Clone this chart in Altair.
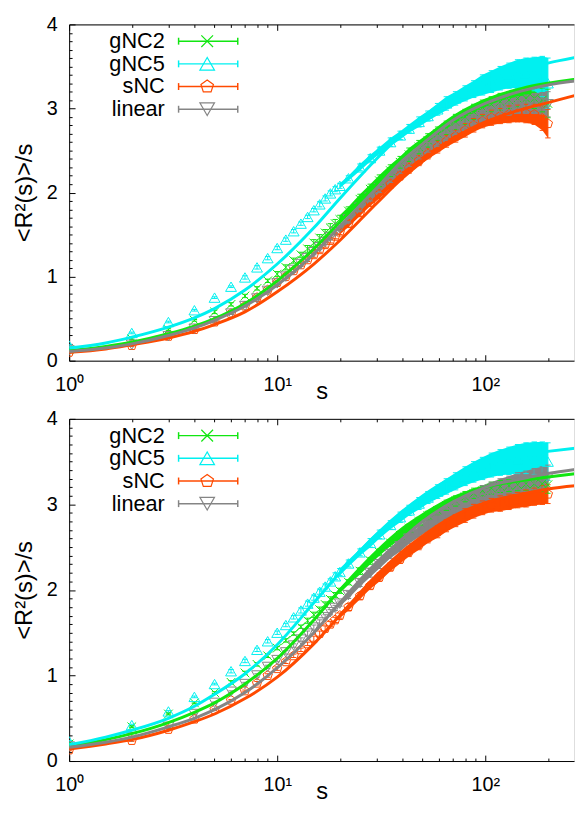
import altair as alt
import pandas as pd

SERIES = ["gNC2", "gNC5", "sNC", "linear"]
COLORS = ["#11e611", "#00f0f0", "#ff4a00", "#858585"]
SHAPES = ["M-0.8,-0.8L0.8,0.8M-0.8,0.8L0.8,-0.8", "triangle-up",
          "M0,-0.9L0.856,-0.278L0.529,0.728L-0.529,0.728L-0.856,-0.278Z", "triangle-down"]

X_LABEL_VALS = [1, 10, 100]
X_LABEL_TEXT = ["10\u2070", "10\u00b9", "10\u00b2"]
Y_LABEL_VALS = [0, 1, 2, 3, 4]

S_PTS = [1, 2, 3, 4, 5, 6, 7, 8, 9, 10, 11, 12, 13, 14, 15, 16, 17, 18, 19, 20,
         22, 25, 28, 31, 35, 39, 43, 48, 53, 59, 65, 72, 80, 88, 97, 107, 118, 130, 143, 157, 172, 188, 200]

# ---- top panel: measured points
TOP_GNC2 = [0.13, 0.26, 0.37, 0.48, 0.58, 0.67, 0.77, 0.86, 0.95, 1.03, 1.11, 1.19, 1.26, 1.33, 1.40, 1.46, 1.52, 1.58, 1.63, 1.68,
            1.78, 1.92, 2.04, 2.14, 2.26, 2.36, 2.45, 2.54, 2.62, 2.70, 2.77, 2.84, 2.90, 2.96, 3.01, 3.05, 3.08, 3.10, 3.12, 3.12, 3.12, 3.10, 3.06]
TOP_GNC2_ERR = [0.01, 0.01, 0.01, 0.01, 0.02, 0.02, 0.02, 0.02, 0.02, 0.03, 0.03, 0.03, 0.03, 0.04, 0.04, 0.04, 0.04, 0.05, 0.05, 0.05,
                0.05, 0.06, 0.06, 0.07, 0.07, 0.07, 0.08, 0.08, 0.08, 0.08, 0.08, 0.09, 0.09, 0.09, 0.09, 0.09, 0.10, 0.10, 0.10, 0.11, 0.12, 0.14, 0.17]
TOP_GNC5 = [0.18, 0.33, 0.46, 0.60, 0.75, 0.88, 0.99, 1.11, 1.22, 1.34, 1.44, 1.54, 1.63, 1.71, 1.79, 1.86, 1.93, 1.99, 2.04, 2.08,
            2.17, 2.30, 2.41, 2.50, 2.60, 2.68, 2.76, 2.84, 2.91, 2.99, 3.06, 3.12, 3.18, 3.23, 3.28, 3.32, 3.36, 3.39, 3.41, 3.42, 3.41, 3.38, 3.30]
TOP_GNC5_ERR = [0.01, 0.01, 0.01, 0.01, 0.01, 0.01, 0.02, 0.02, 0.02, 0.02, 0.02, 0.02, 0.02, 0.02, 0.02, 0.03, 0.03, 0.03, 0.03, 0.03,
                0.03, 0.04, 0.04, 0.04, 0.05, 0.05, 0.05, 0.06, 0.06, 0.07, 0.08, 0.08, 0.09, 0.10, 0.12, 0.13, 0.14, 0.15, 0.17, 0.18, 0.20, 0.24, 0.30]
TOP_SNC = [0.10, 0.18, 0.29, 0.37, 0.46, 0.56, 0.65, 0.75, 0.84, 0.93, 1.00, 1.07, 1.14, 1.20, 1.26, 1.32, 1.38, 1.43, 1.48, 1.53,
           1.63, 1.76, 1.88, 1.98, 2.10, 2.20, 2.29, 2.38, 2.46, 2.54, 2.61, 2.67, 2.74, 2.80, 2.85, 2.89, 2.91, 2.93, 2.94, 2.94, 2.93, 2.88, 2.82]
TOP_SNC_ERR = [0.01, 0.01, 0.01, 0.01, 0.01, 0.01, 0.01, 0.02, 0.02, 0.02, 0.02, 0.02, 0.02, 0.02, 0.03, 0.03, 0.03, 0.03, 0.03, 0.03,
               0.04, 0.04, 0.04, 0.05, 0.05, 0.05, 0.06, 0.06, 0.06, 0.07, 0.07, 0.07, 0.08, 0.08, 0.08, 0.09, 0.09, 0.10, 0.10, 0.11, 0.12, 0.14, 0.17]
TOP_LIN = [0.12, 0.19, 0.29, 0.38, 0.47, 0.56, 0.65, 0.74, 0.83, 0.92, 1.00, 1.08, 1.15, 1.22, 1.29, 1.35, 1.41, 1.47, 1.53, 1.58,
           1.68, 1.82, 1.94, 2.05, 2.17, 2.28, 2.37, 2.46, 2.54, 2.62, 2.69, 2.76, 2.82, 2.87, 2.92, 2.96, 3.00, 3.02, 3.04, 3.05, 3.06, 3.06, 3.05]
TOP_LIN_ERR = [0.01, 0.01, 0.01, 0.01, 0.01, 0.01, 0.01, 0.02, 0.02, 0.02, 0.02, 0.02, 0.02, 0.02, 0.03, 0.03, 0.03, 0.03, 0.03, 0.03,
               0.04, 0.04, 0.04, 0.05, 0.05, 0.05, 0.06, 0.06, 0.06, 0.07, 0.07, 0.07, 0.08, 0.08, 0.08, 0.09, 0.09, 0.10, 0.10, 0.11, 0.12, 0.13, 0.15]

# ---- bottom panel: measured points
BOT_GNC2 = [0.20, 0.40, 0.55, 0.68, 0.80, 0.92, 1.03, 1.13, 1.23, 1.32, 1.41, 1.49, 1.57, 1.64, 1.71, 1.77, 1.83, 1.89, 1.94, 1.99,
            2.09, 2.22, 2.34, 2.44, 2.55, 2.64, 2.72, 2.80, 2.87, 2.93, 2.99, 3.04, 3.09, 3.13, 3.16, 3.19, 3.21, 3.22, 3.23, 3.24, 3.24, 3.24, 3.23]
BOT_GNC2_ERR = [0.01, 0.01, 0.01, 0.01, 0.01, 0.02, 0.02, 0.02, 0.02, 0.02, 0.02, 0.02, 0.02, 0.03, 0.03, 0.03, 0.03, 0.03, 0.03, 0.03,
                0.03, 0.04, 0.04, 0.04, 0.04, 0.05, 0.05, 0.05, 0.05, 0.05, 0.06, 0.06, 0.06, 0.06, 0.06, 0.07, 0.07, 0.07, 0.07, 0.08, 0.08, 0.09, 0.10]
BOT_GNC5 = [0.23, 0.42, 0.58, 0.75, 0.90, 1.05, 1.17, 1.30, 1.40, 1.50, 1.59, 1.68, 1.76, 1.84, 1.91, 1.98, 2.04, 2.10, 2.16, 2.21,
            2.31, 2.44, 2.55, 2.65, 2.76, 2.85, 2.93, 3.01, 3.08, 3.15, 3.21, 3.27, 3.33, 3.38, 3.42, 3.46, 3.49, 3.51, 3.53, 3.54, 3.54, 3.53, 3.50]
BOT_GNC5_ERR = [0.01, 0.01, 0.01, 0.01, 0.01, 0.02, 0.02, 0.02, 0.02, 0.02, 0.02, 0.02, 0.03, 0.03, 0.03, 0.03, 0.03, 0.03, 0.04, 0.04,
                0.04, 0.04, 0.05, 0.05, 0.05, 0.06, 0.06, 0.07, 0.07, 0.08, 0.09, 0.10, 0.11, 0.12, 0.13, 0.14, 0.15, 0.16, 0.17, 0.18, 0.19, 0.20, 0.22]
BOT_SNC = [0.13, 0.24, 0.37, 0.49, 0.60, 0.71, 0.82, 0.91, 1.00, 1.08, 1.16, 1.23, 1.30, 1.37, 1.43, 1.49, 1.55, 1.60, 1.65, 1.70,
           1.80, 1.93, 2.05, 2.15, 2.27, 2.36, 2.45, 2.53, 2.61, 2.68, 2.75, 2.81, 2.87, 2.92, 2.96, 2.99, 3.01, 3.03, 3.05, 3.07, 3.09, 3.11, 3.12]
BOT_SNC_ERR = [0.01, 0.01, 0.01, 0.01, 0.01, 0.01, 0.01, 0.02, 0.02, 0.02, 0.02, 0.02, 0.02, 0.02, 0.03, 0.03, 0.03, 0.03, 0.03, 0.03,
               0.04, 0.04, 0.04, 0.05, 0.05, 0.05, 0.06, 0.06, 0.06, 0.07, 0.07, 0.07, 0.08, 0.08, 0.08, 0.08, 0.09, 0.09, 0.09, 0.10, 0.10, 0.11, 0.11]
BOT_LIN = [0.17, 0.28, 0.40, 0.55, 0.68, 0.81, 0.90, 1.00, 1.10, 1.18, 1.27, 1.35, 1.42, 1.49, 1.56, 1.62, 1.68, 1.74, 1.79, 1.84,
           1.94, 2.08, 2.20, 2.30, 2.42, 2.51, 2.60, 2.68, 2.76, 2.83, 2.90, 2.96, 3.02, 3.07, 3.12, 3.16, 3.19, 3.22, 3.25, 3.27, 3.29, 3.31, 3.32]
BOT_LIN_ERR = [0.01, 0.01, 0.01, 0.01, 0.01, 0.01, 0.02, 0.02, 0.02, 0.02, 0.02, 0.02, 0.02, 0.03, 0.03, 0.03, 0.03, 0.03, 0.03, 0.03,
               0.04, 0.04, 0.05, 0.05, 0.05, 0.06, 0.06, 0.06, 0.07, 0.07, 0.08, 0.08, 0.09, 0.09, 0.10, 0.10, 0.11, 0.11, 0.12, 0.12, 0.13, 0.13, 0.14]

# ---- fitted curves
S_FIT = [1, 1.5, 2, 3, 4, 5, 7, 10, 15, 20, 30, 40, 50, 70, 100, 150, 200, 276]
TOP_FIT_GNC2 = [0.12, 0.17, 0.22, 0.32, 0.41, 0.50, 0.68, 0.95, 1.33, 1.65, 2.10, 2.42, 2.62, 2.90, 3.10, 3.24, 3.30, 3.35]
TOP_FIT_GNC5 = [0.15, 0.21, 0.28, 0.40, 0.51, 0.62, 0.84, 1.15, 1.58, 1.93, 2.40, 2.70, 2.90, 3.14, 3.32, 3.47, 3.54, 3.61]
TOP_FIT_SNC = [0.10, 0.14, 0.19, 0.27, 0.35, 0.43, 0.58, 0.82, 1.15, 1.43, 1.87, 2.17, 2.37, 2.64, 2.84, 2.99, 3.07, 3.16]
TOP_FIT_LIN = [0.11, 0.15, 0.20, 0.30, 0.39, 0.48, 0.65, 0.90, 1.27, 1.60, 2.05, 2.38, 2.58, 2.86, 3.06, 3.21, 3.28, 3.33]
BOT_FIT_GNC2 = [0.17, 0.25, 0.32, 0.45, 0.57, 0.68, 0.90, 1.20, 1.65, 2.00, 2.45, 2.72, 2.88, 3.08, 3.20, 3.28, 3.32, 3.36]
BOT_FIT_GNC5 = [0.19, 0.28, 0.36, 0.50, 0.64, 0.78, 1.02, 1.36, 1.85, 2.20, 2.65, 2.92, 3.10, 3.32, 3.48, 3.58, 3.62, 3.66]
BOT_FIT_SNC = [0.14, 0.20, 0.25, 0.36, 0.46, 0.55, 0.73, 0.98, 1.37, 1.70, 2.17, 2.45, 2.63, 2.86, 3.02, 3.12, 3.18, 3.22]
BOT_FIT_LIN = [0.16, 0.22, 0.28, 0.40, 0.50, 0.60, 0.80, 1.09, 1.50, 1.85, 2.32, 2.60, 2.80, 3.03, 3.20, 3.30, 3.36, 3.41]

X_MAX = 267
W = 512
H_TOP = 341
H_BOT = 347
FONT = "Liberation Sans"


def pts_frame(means, errs):
    rows = []
    for name, m, e in zip(SERIES, means, errs):
        for s, v, d in zip(S_PTS, m, e):
            rows.append({"series": name, "s": s, "v": v, "lo": v - d, "hi": v + d})
    return pd.DataFrame(rows)


def fit_frame(fits):
    rows = []
    for name, f in zip(SERIES, fits):
        for s, v in zip(S_FIT, f):
            rows.append({"series": name, "s": s, "v": v})
    return pd.DataFrame(rows)


X_TICKS = [1, 2, 3, 4, 5, 6, 7, 8, 9, 10, 20, 30, 40, 50, 60, 70, 80, 90, 100, 200]
Y_TICKS = [round(0.1 * k, 1) for k in range(41)]
label_expr = " : ".join(f"datum.value == {v} ? '{t}'" for v, t in zip(X_LABEL_VALS, X_LABEL_TEXT)) + " : ''"
X_MAJOR = "datum.value == 1 || datum.value == 10 || datum.value == 100"
Y_MAJOR = "abs(datum.value - round(datum.value)) < 0.001"


def make_panel(pts, fit, H):
    xs = alt.Scale(type="log", domain=[1, X_MAX], nice=False)
    ys = alt.Scale(domain=[0, 4], nice=False, zero=False)
    color = alt.Color("series:N", scale=alt.Scale(domain=SERIES, range=COLORS), legend=None)
    shape = alt.Shape("series:N", scale=alt.Scale(domain=SERIES, range=SHAPES), legend=None)

    ax_x_main = alt.Axis(orient="bottom", values=X_LABEL_VALS, labelExpr=label_expr, ticks=False, domain=True,
                         domainColor="#000", domainWidth=1, labelFont=FONT, labelFontSize=20, labelColor="#000",
                         labelPadding=14, labelFlush=False, labelOverlap=False, grid=False,
                         title="s", titleFont=FONT, titleFontSize=24, titleFontWeight="normal", titleColor="#000",
                         titleY=38, titleBaseline="alphabetic")
    ax_y_main = alt.Axis(orient="left", values=Y_LABEL_VALS, format="d", ticks=False, domain=True,
                         domainColor="#000", domainWidth=1, labelFont=FONT, labelFontSize=20, labelColor="#000",
                         labelPadding=12, labelFlush=False, labelOverlap=False, grid=False,
                         title="<R\u00b2(s)>/s", titleFont=FONT, titleFontSize=24, titleFontWeight="normal",
                         titleColor="#000", titleX=-45, titleBaseline="middle", titleAlign="center", titleAngle=-90)
    ax_x_in = alt.Axis(orient="top", offset=-H, values=X_TICKS, labels=False, domain=False, grid=False, title=None,
                       tickColor="#000", tickWidth=1,
                       tickSize={"condition": {"test": X_MAJOR, "value": 6}, "value": 3})
    ax_y_in = alt.Axis(orient="right", offset=-W, values=Y_TICKS, labels=False, domain=False, grid=False, title=None,
                       tickColor="#000", tickWidth=1,
                       tickSize={"condition": {"test": Y_MAJOR, "value": 6}, "value": 3})
    ax_x_top = alt.Axis(orient="bottom", offset=-H, values=X_TICKS, labels=False, domain=True, domainColor="#000",
                        domainWidth=1, grid=False, title=None, tickColor="#000", tickWidth=1,
                        tickSize={"condition": {"test": X_MAJOR, "value": 6}, "value": 3})

    base = alt.Chart(pts)
    band = base.transform_filter("datum.s >= 20").mark_area(clip=True, opacity=1).encode(
        x=alt.X("s:Q", scale=xs, axis=ax_x_in),
        y=alt.Y("lo:Q", scale=ys, axis=ax_y_in),
        y2="hi:Q", color=color, detail="series:N")
    rules = base.mark_rule(clip=True, strokeWidth=1).encode(
        x=alt.X("s:Q", scale=xs, axis=None), y=alt.Y("lo:Q", scale=ys, axis=None), y2="hi:Q", color=color)
    cap_lo = base.mark_point(shape="M-1,0L1,0", size=30, strokeWidth=1, clip=True, filled=False, opacity=1).encode(
        x=alt.X("s:Q", scale=xs, axis=None), y=alt.Y("lo:Q", scale=ys, axis=None), color=color)
    cap_hi = base.mark_point(shape="M-1,0L1,0", size=30, strokeWidth=1, clip=True, filled=False, opacity=1).encode(
        x=alt.X("s:Q", scale=xs, axis=None), y=alt.Y("hi:Q", scale=ys, axis=None), color=color)
    marks = base.mark_point(filled=False, size=121, strokeWidth=1, clip=True, opacity=1).encode(
        x=alt.X("s:Q", scale=xs, axis=ax_x_top), y=alt.Y("v:Q", scale=ys, axis=None), color=color, shape=shape)
    lines = alt.Chart(fit).mark_line(strokeWidth=3, interpolate="monotone", clip=True).encode(
        x=alt.X("s:Q", scale=xs, axis=ax_x_main), y=alt.Y("v:Q", scale=ys, axis=ax_y_main),
        color=color, detail="series:N")
    data_layer = alt.layer(band, rules, cap_lo, cap_hi, marks, lines)

    leg = alt.Chart(pd.DataFrame({"series": SERIES}))
    ly = alt.Y("series:N", sort=SERIES, scale=alt.Scale(type="point", range=[17, 86], padding=0), axis=None)
    leg_text = leg.mark_text(align="right", baseline="middle", font=FONT, fontSize=22, color="#000").encode(
        x=alt.value(97), y=ly, text="series:N")
    leg_line = leg.mark_rule(strokeWidth=1.5).encode(x=alt.value(111), x2=alt.value(171), y=ly, color=color)
    leg_cap1 = leg.mark_point(shape="M0,-1L0,1", size=49, strokeWidth=1.5, filled=False, opacity=1).encode(
        x=alt.value(111), y=ly, color=color)
    leg_cap2 = leg.mark_point(shape="M0,-1L0,1", size=49, strokeWidth=1.5, filled=False, opacity=1).encode(
        x=alt.value(171), y=ly, color=color)
    leg_mark = leg.mark_point(filled=False, size=220, strokeWidth=1.2, opacity=1).encode(
        x=alt.value(140), y=ly, color=color, shape=shape)
    legend_layer = alt.layer(leg_line, leg_cap1, leg_cap2, leg_mark, leg_text)

    return alt.layer(data_layer, legend_layer).resolve_scale(y="independent").properties(width=W, height=H)


top = make_panel(pts_frame([TOP_GNC2, TOP_GNC5, TOP_SNC, TOP_LIN], [TOP_GNC2_ERR, TOP_GNC5_ERR, TOP_SNC_ERR, TOP_LIN_ERR]),
                 fit_frame([TOP_FIT_GNC2, TOP_FIT_GNC5, TOP_FIT_SNC, TOP_FIT_LIN]), H_TOP)
bottom = make_panel(pts_frame([BOT_GNC2, BOT_GNC5, BOT_SNC, BOT_LIN], [BOT_GNC2_ERR, BOT_GNC5_ERR, BOT_SNC_ERR, BOT_LIN_ERR]),
                    fit_frame([BOT_FIT_GNC2, BOT_FIT_GNC5, BOT_FIT_SNC, BOT_FIT_LIN]), H_BOT)

chart = alt.vconcat(top, bottom, spacing=4).properties(
    padding={"left": 4, "right": 0, "top": 0, "bottom": 0}
).configure_view(stroke=None).configure(font=FONT)

chart.save("out.html", embed_options={"renderer": "svg", "actions": False})
